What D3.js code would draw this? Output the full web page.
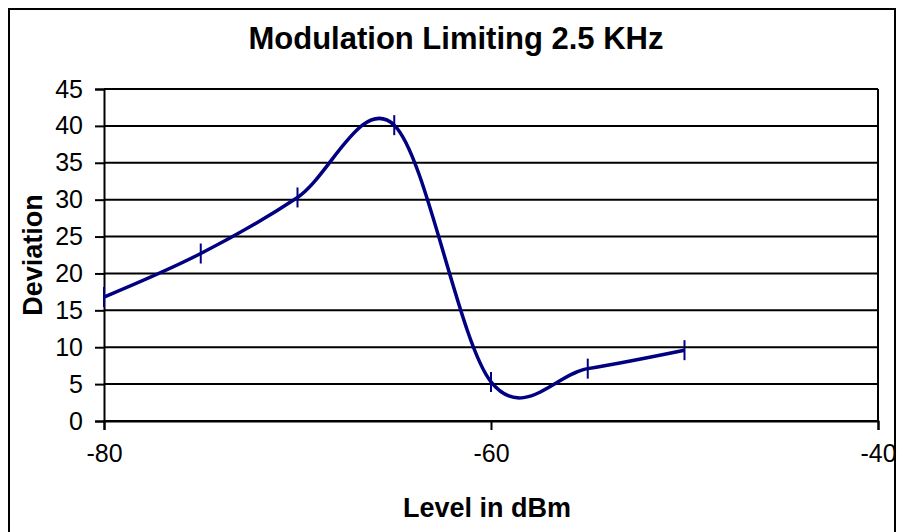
<!DOCTYPE html>
<html>
<head>
<meta charset="utf-8">
<script src="https://d3js.org/d3.v7.min.js"></script>
<style>
body { margin: 0; background: #fff; }
text { font-family: "Liberation Sans", Arial, sans-serif; }
</style>
</head>
<body>
<div id="chart"></div>
<script>
// datos
var nivel = [-80, -75, -70, -65, -60, -55, -50];
var desviacion = [16.8, 22.7, 30.3, 40.1, 5.3, 7.1, 9.6];
var ticksX = [-80, -60, -40];
var ticksY = [0, 5, 10, 15, 20, 25, 30, 35, 40, 45];

var W = 904, H = 532;
var izq = 104, der = 878, arriba = 89, abajo = 421;

var svg = d3.select("#chart").append("svg")
	.attr("width", W)
	.attr("height", H);

// marco exterior
svg.append("rect")
	.attr("x", 9).attr("y", 9)
	.attr("width", 886).attr("height", 524)
	.attr("fill", "none")
	.attr("stroke", "#000")
	.attr("stroke-width", 2);

var x = d3.scaleLinear().domain([-80, -40]).range([izq, der]);
var y = d3.scaleLinear().domain([0, 45]).range([abajo, arriba]);

// lineas de grilla
svg.append("g")
	.selectAll("line")
	.data(ticksY)
	.enter()
	.append("line")
	.attr("x1", izq).attr("x2", der)
	.attr("y1", function(d){ return y(d); })
	.attr("y2", function(d){ return y(d); })
	.attr("stroke", "#000")
	.attr("stroke-width", 2);

// borde derecho del area
svg.append("line")
	.attr("x1", der).attr("x2", der)
	.attr("y1", arriba).attr("y2", abajo)
	.attr("stroke", "#000").attr("stroke-width", 2);

var ejeY = svg.append("g")
	.attr("transform", "translate(" + izq + ",0)")
	.call(d3.axisLeft(y).tickValues(ticksY).tickSize(9).tickPadding(12));

var ejeX = svg.append("g")
	.attr("transform", "translate(0," + abajo + ")")
	.call(d3.axisBottom(x).tickValues(ticksX).tickSize(9).tickPadding(14)
		.tickFormat(function(d){ return d; }));

[ejeX, ejeY].forEach(function(e){
	e.select(".domain").attr("stroke", "#000").attr("stroke-width", 2);
	e.selectAll(".tick line").attr("stroke", "#000").attr("stroke-width", 2);
	e.selectAll("text")
		.attr("font-family", "Liberation Sans, Arial, sans-serif")
		.attr("font-size", "25px")
		.attr("fill", "#000");
});

// curva suavizada
var puntos = nivel.map(function(v, i){ return [v, desviacion[i]]; });
var linea = d3.line()
	.x(function(d){ return x(d[0]); })
	.y(function(d){ return y(d[1]); })
	.curve(d3.curveCardinal.tension(0));

svg.append("path")
	.datum(puntos)
	.attr("d", linea)
	.attr("fill", "none")
	.attr("stroke", "#000080")
	.attr("stroke-width", 3.5);

// marcadores (rayitas verticales)
svg.append("g")
	.selectAll("line")
	.data(puntos)
	.enter()
	.append("line")
	.attr("x1", function(d){ return x(d[0]); })
	.attr("x2", function(d){ return x(d[0]); })
	.attr("y1", function(d){ return y(d[1]) - 10; })
	.attr("y2", function(d){ return y(d[1]) + 10; })
	.attr("stroke", "#000080")
	.attr("stroke-width", 2);

// titulos
svg.append("text")
	.attr("x", 456).attr("y", 49)
	.attr("text-anchor", "middle")
	.attr("font-size", "31px")
	.attr("font-weight", "bold")
	.text("Modulation Limiting 2.5 KHz");

svg.append("text")
	.attr("x", 487).attr("y", 517)
	.attr("text-anchor", "middle")
	.attr("font-size", "27px")
	.attr("font-weight", "bold")
	.text("Level in dBm");

svg.append("text")
	.attr("transform", "translate(42,255) rotate(-90)")
	.attr("text-anchor", "middle")
	.attr("font-size", "27px")
	.attr("font-weight", "bold")
	.text("Deviation");
</script>
</body>
</html>
